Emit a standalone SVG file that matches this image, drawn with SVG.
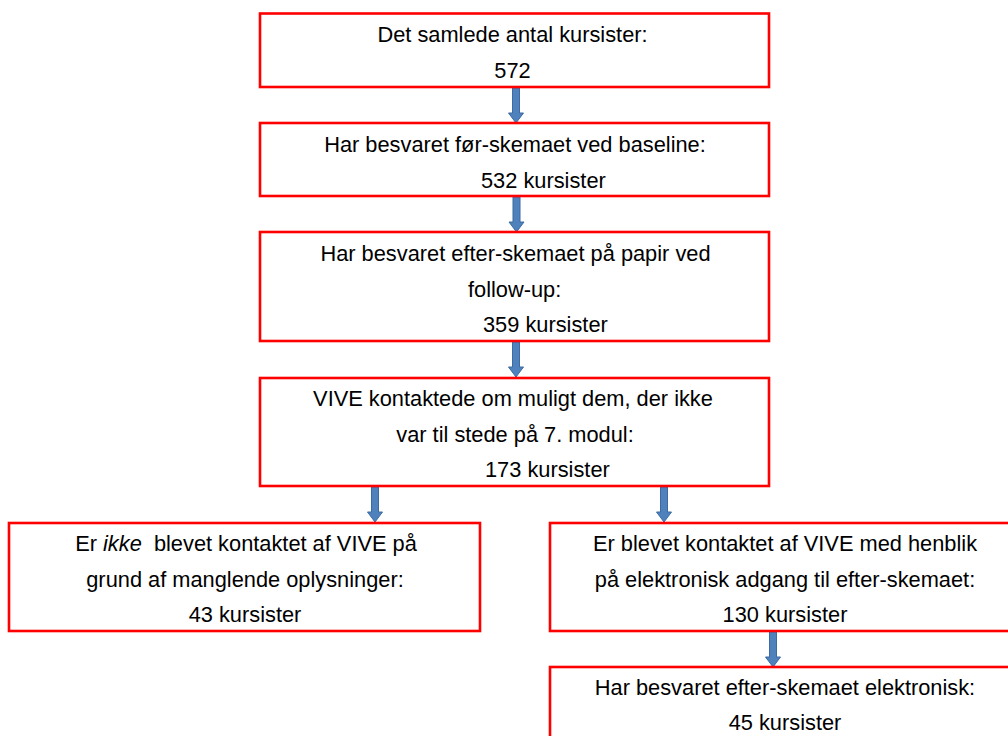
<svg xmlns="http://www.w3.org/2000/svg" width="1008" height="736" viewBox="0 0 1008 736">
<style>
.box{fill:#ffffff;stroke:#ff0000;stroke-width:2.6}
.t{font-family:"Liberation Sans",Arial,sans-serif;font-size:21.8px;fill:#000000}
.m{text-anchor:middle}
.arr{fill:#4f81bd;stroke:#3b6ba1;stroke-width:1}
</style>
<rect width="1008" height="736" fill="#ffffff"/>
<g id="connectors">
<path class="arr" d="M512.5,88 L519.5,88 L519.5,113 L523.5,113 L516,123 L508.5,113 L512.5,113 Z"/>
<path class="arr" d="M513,197 L520,197 L520,222 L524,222 L516.5,232 L509,222 L513,222 Z"/>
<path class="arr" d="M512.5,342 L519.5,342 L519.5,367 L523.5,367 L516,377 L508.5,367 L512.5,367 Z"/>
<path class="arr" d="M371.5,487 L378.5,487 L378.5,512 L382.5,512 L375,522 L367.5,512 L371.5,512 Z"/>
<path class="arr" d="M660.5,487 L667.5,487 L667.5,512 L671.5,512 L664,522 L656.5,512 L660.5,512 Z"/>
<path class="arr" d="M769.5,632 L776.5,632 L776.5,657 L780.5,657 L773,667 L765.5,657 L769.5,657 Z"/>
</g>
<g id="n1">
<rect class="box" x="260" y="13.5" width="509" height="73.5"/>
<text class="t m" x="512.5" y="42">Det samlede antal kursister:</text>
<text class="t m" x="512.5" y="77.5">572</text>
</g>
<g id="n2">
<rect class="box" x="260" y="123" width="509" height="73"/>
<text class="t m" x="515" y="152">Har besvaret før-skemaet ved baseline:</text>
<text class="t" x="481" y="187.5">532 kursister</text>
</g>
<g id="n3">
<rect class="box" x="260" y="232" width="509" height="109"/>
<text class="t m" x="515.5" y="261">Har besvaret efter-skemaet på papir ved</text>
<text class="t" x="468" y="297">follow-up:</text>
<text class="t" x="483" y="332">359 kursister</text>
</g>
<g id="n4">
<rect class="box" x="260" y="378" width="509" height="108"/>
<text class="t m" x="513" y="406">VIVE kontaktede om muligt dem, der ikke</text>
<text class="t m" x="515" y="442">var til stede på 7. modul:</text>
<text class="t" x="485" y="477">173 kursister</text>
</g>
<g id="n5">
<rect class="box" x="9" y="523" width="471" height="108"/>
<text class="t m" x="246" y="551">Er <tspan font-style="italic">ikke</tspan>&#160; blevet kontaktet af VIVE på</text>
<text class="t m" x="245" y="587">grund af manglende oplysninger:</text>
<text class="t m" x="245" y="622">43 kursister</text>
</g>
<g id="n6">
<rect class="box" x="550" y="523" width="470" height="108"/>
<text class="t m" x="785" y="551">Er blevet kontaktet af VIVE med henblik</text>
<text class="t m" x="785" y="587">på elektronisk adgang til efter-skemaet:</text>
<text class="t m" x="785" y="622">130 kursister</text>
</g>
<g id="n7">
<rect class="box" x="550" y="667" width="470" height="90"/>
<text class="t m" x="785" y="695">Har besvaret efter-skemaet elektronisk:</text>
<text class="t m" x="785" y="730">45 kursister</text>
</g>
</svg>
